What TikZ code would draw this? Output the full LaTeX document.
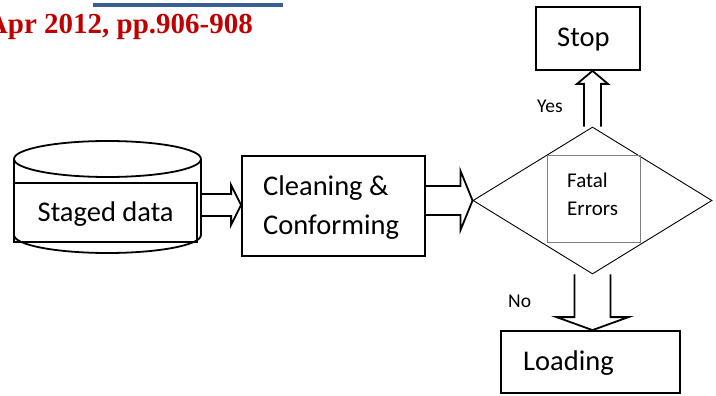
\documentclass[tikz,border=0pt]{standalone}
\usepackage{fontspec}
\setmainfont{Carlito}
\newfontfamily\headfont{Liberation Serif}
\usetikzlibrary{calc,shapes.geometric}

\definecolor{headred}{RGB}{192,0,0}
\definecolor{linkblue}{RGB}{54,96,146}
\definecolor{thingray}{RGB}{128,128,128}

\tikzset{
  % block arrow from start to target: shaft half-width, head half-width, head length
  fat/.style n args={3}{to path={
    ($(\tikztotarget)!#3!(\tikztostart)$) coordinate (fat-h)
    ($(\tikztostart)!#1!90:(\tikztotarget)$)
    -- ($(fat-h)!#1!90:(\tikztotarget)$)
    -- ($(fat-h)!#2!90:(\tikztotarget)$)
    -- (\tikztotarget)
    -- ($(fat-h)!#2!-90:(\tikztotarget)$)
    -- ($(fat-h)!#1!-90:(\tikztotarget)$)
    -- ($(\tikztostart)!#1!-90:(\tikztotarget)$)
  }},
  box/.style={draw, line width=1.8pt, rectangle, inner sep=0pt},
  label/.style={inner sep=0pt, anchor=base west},
  big/.style={font=\fontsize{28.5}{34}\selectfont},
  mid/.style={font=\fontsize{21}{25}\selectfont},
  small/.style={font=\fontsize{19.5}{23}\selectfont},
  arrowline/.style={draw, line width=1.8pt},
}

\begin{document}
\begin{tikzpicture}[x=1pt, y=-1pt]
\useasboundingbox (0,0) rectangle (716,396);

% header fragment
\draw[linkblue, line width=3.5pt] (93,5) coordinate (ulA) -- (283,5) coordinate (ulB);
\node[inner sep=0pt, anchor=base east, text=headred,
      font=\headfont\bfseries\fontsize{29}{34}\selectfont] (head) at (253,34)
      {Apr 2012, pp.906-908};

% staged data store (cylinder)
\draw[line width=1.8pt] (107.5,159) ellipse [x radius=93.5, y radius=18];
\draw[line width=1.8pt] (14,159) -- (14,235)
      arc[start angle=180, end angle=0, x radius=93.5, y radius=18]
      -- (201,159);
\node[box, minimum width=183, minimum height=59] (staged) at (105.5,212.5) {};
\node[label, big] (stagedtxt) at (37.5,221) {Staged data};
\coordinate (cylR) at (201,205);

% cleaning & conforming
\node[box, minimum width=183, minimum height=100] (clean) at (333.5,206) {};
\node[label, big] (cleantxt1) at (263,195) {Cleaning \&};
\node[label, big] (cleantxt2) at (263,234) {Conforming};

% decision
\node[draw, diamond, line width=0.9pt, inner sep=0pt,
      minimum width=239, minimum height=147] (dec) at (592.5,200.5) {};
\node[draw=thingray, line width=0.9pt, rectangle, inner sep=0pt,
      minimum width=93, minimum height=87] (fatal) at (593.5,198.5) {};
\node[label, mid] (fataltxt1) at (567,187) {Fatal};
\node[label, mid] (fataltxt2) at (567,215) {Errors};

% stop
\node[box, minimum width=104, minimum height=63] (stop) at (588,38.5) {};
\node[label, big] (stoptxt) at (557,47) {Stop};
\node[label, small] (yes) at (537,113) {Yes};

% loading
\node[box, minimum width=179, minimum height=62] (load) at (590.5,362) {};
\node[label, big] (loadtxt) at (523,370) {Loading};
\node[label, small] (no) at (508,307) {No};

% connectors
\coordinate (a1T) at (clean.west |- cylR);
\coordinate (a2S) at (clean.east |- dec.west);
\coordinate (upT) at (stop.south -| dec.north);
\coordinate (dnT) at (load.north -| dec.south);

\path[arrowline, fat={11pt}{20pt}{10pt}] (cylR) to (a1T);
\path[arrowline, fat={14.5pt}{29.5pt}{12pt}] (a2S) to (dec.west);
\path[arrowline, fat={8.5pt}{15.5pt}{13pt}] (dec.north) to (upT);
\path[arrowline, fat={18pt}{36pt}{13pt}] (dec.south) to (dnT);
\end{tikzpicture}
\end{document}
